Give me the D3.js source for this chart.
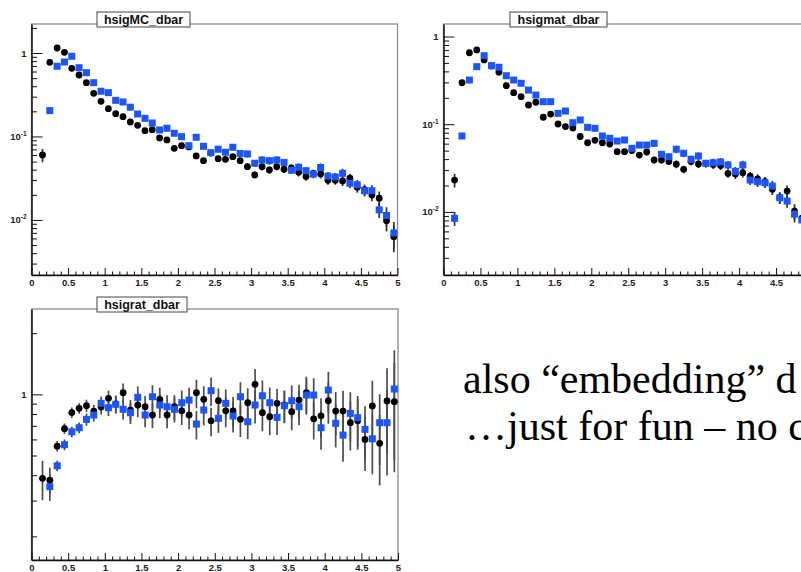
<!DOCTYPE html>
<meta charset="utf-8">
<script src="https://d3js.org/d3.v7.min.js"></script>
<style>
  body { margin: 0; background: #fff; }
  svg { display: block; }
</style>
<div id="chart"></div>
<script>

// bin centres of the dbar histograms (0.1 wide bins)
var binCentres = [0.15, 0.25, 0.35, 0.45, 0.55, 0.65, 0.75, 0.85, 0.95, 1.05,
  1.15, 1.25, 1.35, 1.45, 1.55, 1.65, 1.75, 1.85, 1.95, 2.05,
  2.15, 2.25, 2.35, 2.45, 2.55, 2.65, 2.75, 2.85, 2.95, 3.05,
  3.15, 3.25, 3.35, 3.45, 3.55, 3.65, 3.75, 3.85, 3.95, 4.05,
  4.15, 4.25, 4.35, 4.45, 4.55, 4.65, 4.75, 4.85, 4.95];

var xTickLabels = [0, 0.5, 1, 1.5, 2, 2.5, 3, 3.5, 4, 4.5, 5];

// hsigMC_dbar
var mcBlack = [0.060, 0.774, 1.148, 1.02, 0.656, 0.545, 0.441, 0.329, 0.264, 0.215,
  0.1875, 0.1726, 0.149, 0.136, 0.1174, 0.1207, 0.096, 0.0908, 0.0722, 0.0776,
  0.0749, 0.0584, 0.0513, 0.0634, 0.0542, 0.0533, 0.0573, 0.0513, 0.0435, 0.0346,
  0.0435, 0.0397, 0.0435, 0.0405, 0.042, 0.0373, 0.0332, 0.036, 0.0356, 0.0299,
  0.0299, 0.0293, 0.0316, 0.0246, 0.0231, 0.0199, 0.0182, 0.00981, 0.00631];
var mcBlue = [null, 0.204, 0.693, 0.780, 0.913, 0.667, 0.581, 0.441, 0.348, 0.335,
  0.271, 0.259, 0.224, 0.186, 0.165, 0.145, 0.1197, 0.1254, 0.1092, 0.0995,
  0.0776, 0.0978, 0.0763, 0.064, 0.0703, 0.0647, 0.0743, 0.0626, 0.0617, 0.0478,
  0.0523, 0.0513, 0.0523, 0.0489, 0.0394, 0.0428, 0.0389, 0.0354, 0.0425, 0.0335,
  0.0327, 0.0362, 0.0275, 0.0264, 0.0224, 0.0224, 0.0132, 0.0113, 0.00699];

// hsigmat_dbar
var matBlack = [0.0231, 0.297, 0.653, 0.702, 0.540, 0.461, 0.391, 0.275, 0.229, 0.206,
  0.1656, 0.178, 0.120, 0.1306, 0.1005, 0.0941, 0.0905, 0.0724, 0.0615, 0.0655,
  0.0615, 0.0595, 0.0486, 0.0486, 0.0501, 0.0445, 0.0482, 0.0391, 0.0391, 0.0376,
  0.035, 0.0306, 0.0376, 0.0352, 0.0356, 0.0347, 0.0338, 0.0275, 0.027, 0.028,
  0.0255, 0.0238, 0.0221, 0.0181, 0.0146, 0.0173, 0.0102, 0.0085, null];
var matBlue = [0.00845, 0.0734, 0.319, 0.453, 0.604, 0.465, 0.446, 0.357, 0.319, 0.293,
  0.245, 0.215, 0.1806, 0.1806, 0.133, 0.1414, 0.104, 0.1117, 0.0922, 0.0898,
  0.0734, 0.0691, 0.0643, 0.0661, 0.0531, 0.0579, 0.0579, 0.0606, 0.0454, 0.0426,
  0.0518, 0.0466, 0.0398, 0.0434, 0.0358, 0.0364, 0.0371, 0.0343, 0.029, 0.0343,
  0.0231, 0.0221, 0.0215, 0.0197, 0.0145, 0.0133, 0.00946, 0.00809, null];

// hsigrat_dbar
var ratBlack = [0.386, 0.378, 0.556, 0.678, 0.813, 0.853, 0.879, 0.827, 0.866, 0.956,
  0.896, 1.018, 0.837, 0.886, 0.869, 0.791, 0.945, 0.791, 0.869, 0.830,
  0.791, 1.018, 0.945, 0.741, 0.930, 0.830, 0.830, 0.753, 0.909, 1.120,
  0.812, 0.776, 0.903, 0.886, 0.821, 0.937, 1.018, 0.758, 0.784, 0.930,
  0.827, 0.827, 0.725, 0.741, 0.600, 0.876, 0.574, 0.927, 0.920];
var ratBlue = [null, 0.351, 0.445, 0.565, 0.654, 0.685, 0.753, 0.791, 0.903, 0.859,
  0.893, 0.844, 0.812, 0.966, 0.791, 0.973, 0.886, 0.869, 0.844, 0.909,
  0.937, 0.714, 0.837, 1.042, 0.762, 0.903, 0.782, 0.973, 0.733, 0.886,
  0.984, 0.909, 0.770, 0.879, 0.930, 0.869, 0.992, 0.992, 0.685, 1.050,
  0.720, 0.630, 0.806, 0.767, 0.672, 0.604, 0.725, 0.725, 1.062];

// relative errors
var topErr = [0.18, 0.04, 0.03, 0.03, 0.03, 0.03, 0.03, 0.03, 0.03, 0.03,
  0.04, 0.04, 0.04, 0.04, 0.05, 0.05, 0.05, 0.05, 0.06, 0.06,
  0.07, 0.07, 0.07, 0.08, 0.08, 0.08, 0.08, 0.09, 0.09, 0.09,
  0.1, 0.1, 0.1, 0.1, 0.1, 0.11, 0.11, 0.11, 0.12, 0.12,
  0.12, 0.13, 0.13, 0.14, 0.15, 0.16, 0.2, 0.26, 0.35];
var ratErr = [0.22, 0.15, 0.06, 0.06, 0.06, 0.06, 0.07, 0.07, 0.08, 0.09,
  0.10, 0.11, 0.12, 0.13, 0.13, 0.14, 0.14, 0.14, 0.14, 0.15,
  0.15, 0.16, 0.16, 0.16, 0.15, 0.17, 0.17, 0.18, 0.18, 0.19,
  0.19, 0.19, 0.18, 0.18, 0.19, 0.19, 0.20, 0.21, 0.22, 0.23,
  0.24, 0.26, 0.27, 0.28, 0.30, 0.33, 0.38, 0.45, 0.55];

var blue = "#1a55ff";

var svg = d3.select("#chart").append("svg")
  .attr("width", 801)
  .attr("height", 572);
svg.append("rect").attr("width", 801).attr("height", 572).attr("fill", "#fff");

function toPoints(vals, errs) {
  return binCentres.map(function(c, i) { return {c: c, v: vals[i], e: errs[i]}; })
    .filter(function(d) { return d.v != null; });
}

function styleAxis(sel) {
  sel.selectAll(".tick line").attr("stroke", "#111").attr("stroke-width", 1);
  sel.selectAll("text")
    .attr("font-family", "'Liberation Sans', Arial, sans-serif")
    .attr("font-weight", "bold")
    .attr("font-size", 9.5)
    .attr("fill", "#222");
}

var panelId = 0;
function drawPanel(p) {
  panelId++;
  var x = d3.scaleLinear().domain([0, 5]).range([p.x0, p.x1]);
  var y = d3.scaleLog().domain(p.yDomain).range([p.y1, p.y0]);
  var g = svg.append("g");

  g.append("clipPath").attr("id", "clip" + panelId)
    .append("rect").attr("x", p.x0).attr("y", p.y0)
    .attr("width", p.x1 - p.x0).attr("height", p.y1 - p.y0);

  // frame
  g.append("rect")
    .attr("x", p.x0).attr("y", p.y0)
    .attr("width", p.x1 - p.x0).attr("height", p.y1 - p.y0)
    .attr("fill", "none").attr("stroke", "#8c8c8c").attr("stroke-width", 1.3);

  // x axis: minor ticks every 0.1, labelled ticks every 0.5
  var xMinor = d3.range(0, 51).map(function(i) { return i / 10; })
    .filter(function(v) { return Math.round(v * 10) % 5 != 0; });
  g.append("g").attr("transform", "translate(0," + p.y1 + ")")
    .call(d3.axisBottom(x).tickValues(xMinor).tickSize(-3.5).tickFormat(""))
    .call(function(s) { s.select(".domain").remove(); })
    .call(styleAxis);
  g.append("g").attr("transform", "translate(0," + p.y1 + ")")
    .call(d3.axisBottom(x).tickValues(xTickLabels).tickSize(-7).tickSizeOuter(0)
      .tickPadding(4).tickFormat(d3.format("~g")))
    .call(function(s) { s.select(".domain").attr("stroke", "#111").attr("stroke-width", 1.5); })
    .call(styleAxis);

  // y axis (log)
  var yMinor = p.yMinor.filter(function(v) { return v >= p.yDomain[0] && v <= p.yDomain[1]; });
  g.append("g").attr("transform", "translate(" + p.x0 + ",0)")
    .call(d3.axisLeft(y).tickValues(yMinor).tickSize(-5.5).tickFormat(""))
    .call(function(s) { s.select(".domain").remove(); })
    .call(styleAxis);
  var ya = g.append("g").attr("transform", "translate(" + p.x0 + ",0)")
    .call(d3.axisLeft(y).tickValues(p.yMajor).tickSize(-11).tickSizeOuter(0).tickPadding(5).tickFormat(""))
    .call(function(s) { s.select(".domain").attr("stroke", "#111").attr("stroke-width", 1.5); })
    .call(styleAxis);
  ya.selectAll(".tick text").each(function(d) {
    var t = d3.select(this);
    var ex = Math.round(Math.log10(d));
    if (ex === 0) { t.text("1"); return; }
    t.append("tspan").text("10");
    t.append("tspan").attr("dy", -4).attr("font-size", 6.5).text(String(ex));
  });

  // data
  var plot = g.append("g").attr("clip-path", "url(#clip" + panelId + ")");
  var black = toPoints(p.black, p.err);
  var bl = toPoints(p.blue, p.err);

  function errBars(pts) {
    plot.append("g").selectAll("line").data(pts).enter().append("line")
      .attr("x1", function(d) { return x(d.c); })
      .attr("x2", function(d) { return x(d.c); })
      .attr("y1", function(d) { return y(d.v * (1 + d.e)); })
      .attr("y2", function(d) { return y(Math.max(d.v * (1 - d.e), 1e-4)); })
      .attr("stroke", p.barColour).attr("stroke-width", 1.7);
  }
  errBars(black);
  errBars(bl);

  plot.append("g").selectAll("circle").data(black).enter().append("circle")
    .attr("cx", function(d) { return x(d.c); })
    .attr("cy", function(d) { return y(d.v); })
    .attr("r", 3.4)
    .attr("fill", "#000");

  plot.append("g").selectAll("rect").data(bl).enter().append("rect")
    .attr("x", function(d) { return x(d.c) - 3.5; })
    .attr("y", function(d) { return y(d.v) - 3.5; })
    .attr("width", 7).attr("height", 7)
    .attr("fill", blue);

  // title box
  var tb = p.titleBox;
  g.append("rect").attr("x", tb[0]).attr("y", tb[1]).attr("width", tb[2]).attr("height", tb[3])
    .attr("fill", "#fff").attr("stroke", "#444").attr("stroke-width", 1);
  g.append("text")
    .attr("x", tb[0] + tb[2] / 2).attr("y", tb[1] + tb[3] / 2 + 4.3)
    .attr("text-anchor", "middle")
    .attr("font-family", "'Liberation Sans', Arial, sans-serif")
    .attr("font-weight", "bold").attr("font-size", 12.5)
    .attr("fill", "#111")
    .text(p.title);
}

var logMinor = [0.003, 0.004, 0.005, 0.006, 0.007, 0.008, 0.009,
  0.02, 0.03, 0.04, 0.05, 0.06, 0.07, 0.08, 0.09,
  0.2, 0.3, 0.4, 0.5, 0.6, 0.7, 0.8, 0.9, 2];

drawPanel({
  title: "hsigMC_dbar", titleBox: [97, 12, 93, 15],
  x0: 31.5, x1: 397.5, y0: 24, y1: 275,
  yDomain: [0.00219, 2.225], yMajor: [0.01, 0.1, 1], yMinor: logMinor,
  black: mcBlack, blue: mcBlue, err: topErr, barColour: "#333"
});

drawPanel({
  title: "hsigmat_dbar", titleBox: [510, 12, 97, 15],
  x0: 443.5, x1: 813, y0: 24, y1: 275,
  yDomain: [0.00191, 1.388], yMajor: [0.01, 0.1, 1], yMinor: logMinor,
  black: matBlack, blue: matBlue, err: topErr, barColour: "#333"
});

drawPanel({
  title: "hsigrat_dbar", titleBox: [97, 297, 90, 15],
  x0: 31.5, x1: 398, y0: 309, y1: 560,
  yDomain: [0.153, 2.63], yMajor: [1], yMinor: [0.2, 0.3, 0.4, 0.5, 0.6, 0.7, 0.8, 0.9, 2],
  black: ratBlack, blue: ratBlue, err: ratErr, barColour: "#4d4d4d"
});

// slide text, cut at the right edge as on the slide
var lines = ["also \u201cembedding\u201d d", "\u2026just for fun \u2013 no c"];
svg.selectAll(".slideText").data(lines).enter().append("text")
  .attr("class", "slideText")
  .attr("x", function(d, i) { return i === 0 ? 463 : 465; })
  .attr("y", function(d, i) { return 393 + i * 46.5; })
  .attr("font-family", "'Liberation Serif', 'Times New Roman', serif")
  .attr("font-size", 42)
  .attr("fill", "#000")
  .text(function(d) { return d; });

</script>
